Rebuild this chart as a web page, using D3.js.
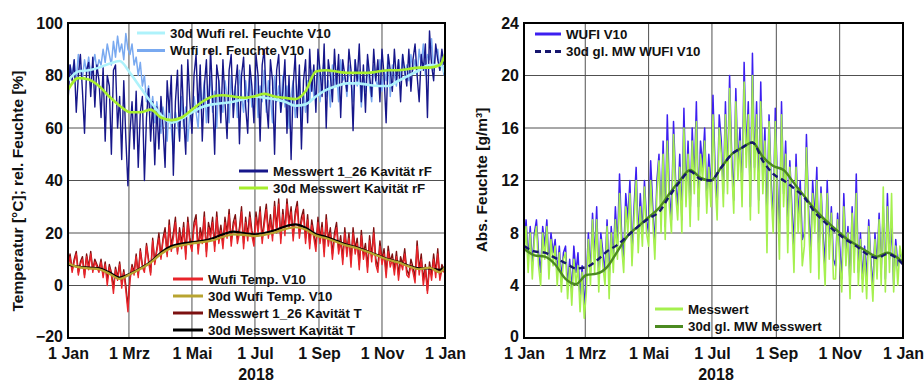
<!DOCTYPE html>
<html><head><meta charset="utf-8">
<script src="https://cdn.jsdelivr.net/npm/d3@7"></script>
<style>
body{margin:0;background:#fff;}
svg{font-family:"Liberation Sans",Arial,sans-serif;font-weight:bold;}
</style></head>
<body><svg id="c" width="924" height="383"></svg>
<script>
// ---------- DATA ----------
const year = 2018;
const xTickLabels = ["1 Jan","1 Mrz","1 Mai","1 Jul","1 Sep","1 Nov","1 Jan"];
const xTickMonths = [0,2,4,6,8,10,12];
const leftYTicks = [-20,0,20,40,60,80,100];
const rightYTicks = [0,4,8,12,16,20,24];
const rawStepDays = 2;

// raw (noisy) series, one value every 2 days
const messwertRF = [70,84,78,86,66,80,88,74,58,82,85,72,87,68,84,
 78,64,83,55,80,76,50,82,84,60,72,48,78,56,38,
 58,70,52,74,45,66,72,40,64,75,55,70,46,68,52,
 72,60,45,78,66,80,42,70,82,55,84,64,50,86,70,
 58,80,88,66,84,55,76,86,62,90,72,50,84,78,62,
 86,70,56,82,88,64,76,84,54,80,87,68,58,84,76,
 62,88,80,55,84,90,70,60,86,78,50,82,88,66,74,
 86,58,80,48,76,88,64,84,52,78,86,62,90,74,84,
 66,90,82,72,92,60,86,80,70,90,76,88,64,86,80,
 74,90,82,59,86,78,92,70,84,66,88,80,72,90,78,
 86,70,90,80,62,88,82,74,90,78,86,70,88,82,76,
 90,74,86,92,80,70,88,82,92,64,97,84,78,92,86,
 82,90,84];
const wufiRF = [76,84,80,86,78,88,82,79,86,81,87,80,84,88,82,
 86,84,90,85,92,88,84,93,87,95,89,92,86,96,90,
 88,92,84,87,80,85,76,80,70,76,66,72,62,70,64,
 58,68,62,55,70,60,50,66,62,56,72,60,68,55,66,
 62,72,66,60,76,68,78,62,72,80,66,74,60,78,70,
 66,78,72,62,80,70,76,64,82,72,66,78,70,80,68,
 72,80,64,76,70,82,66,78,72,62,80,70,76,66,80,
 68,76,60,72,78,64,70,80,62,74,66,78,70,82,72,
 74,84,70,80,86,72,78,68,84,76,82,70,86,78,80,
 72,84,78,70,86,76,82,68,80,74,86,76,70,84,78,
 76,86,74,82,78,88,72,84,80,76,86,78,88,80,84,
 78,88,82,86,80,90,84,92,80,88,86,94,82,88,90,
 82,86,80];
const messwertT = [8,12,6,10,13,5,9,11,4,12,7,13,6,10,8,
 6,10,4,9,2,8,5,-1,7,3,9,1,6,0,-8,
 3,8,5,12,4,14,8,6,16,10,5,18,9,14,20,
 11,18,22,12,25,15,20,26,13,22,16,24,12,26,18,
 15,24,27,14,22,18,28,13,24,20,26,15,28,18,23,
 16,26,20,29,17,24,27,18,22,30,16,26,19,28,21,
 17,28,22,30,18,25,31,20,27,19,32,22,33,18,29,
 21,33,24,30,19,28,32,20,26,29,18,27,16,25,20,
 15,26,18,24,13,27,17,22,12,20,24,14,19,10,22,
 13,20,9,22,14,18,8,21,12,16,7,19,11,22,10,
 7,17,10,14,5,15,9,12,6,13,4,11,8,14,6,
 4,10,7,3,17,6,12,2,8,-2,9,4,12,5,14,
 3,8,6];
const wufiT = [7,11,5,9,12,4,8,10,3,11,6,12,5,9,7,
 5,9,3,8,0,7,4,-3,6,2,8,-1,5,-2,-10,
 2,7,4,11,3,13,7,5,15,9,4,17,8,13,18,
 10,17,20,11,23,13,18,24,12,20,14,22,10,24,16,
 13,22,25,12,20,16,26,11,22,18,24,13,26,16,21,
 14,24,18,27,15,22,25,16,20,28,14,24,17,26,19,
 15,26,20,28,16,23,29,18,25,17,30,20,31,16,27,
 19,31,22,28,17,26,30,18,24,27,16,25,14,23,18,
 13,24,16,22,11,25,15,20,10,18,22,12,17,8,20,
 11,18,7,20,12,16,6,19,10,14,5,17,9,20,8,
 5,15,8,12,3,13,7,10,4,11,2,9,6,12,4,
 3,8,5,1,15,4,10,0,6,-3,7,2,10,3,12,
 2,6,5];
const wufiAbs = [7,9,6,8.5,5.5,8,9,6.5,5,8.5,7,9,5.5,8,6.5,
 7.5,5,7,4.5,6.5,7,4,6,3.5,7,5,6.5,3,5.5,2.5,
 4.5,8,5,9.5,6,10,4.5,8,6.5,5,9,4.5,8.5,6,10,
 7,12.5,8,6,11,9,12,6.5,10,13,7.5,11,8,12,9,
 8,13.5,10,7,12,14,9,15,8.5,17,11,9,16.5,12,10,
 14,9,17.5,11,15,9.5,16,12,18,10,15,13,16,10.5,14,
 11,18.5,13,10,17,15,11,18,12,20,14,10.5,19,13,16,
 11,21,14,18,10,21.7,13,18,10.5,19.5,12,16,9,17,12,
 9,17.5,12,8,18,11,15,8.5,13.5,10,7,14,9,12,7.5,
 8,15.5,10,6.5,12,9,13,6,11.5,8,5.5,12,7,10,6,
 5.5,9.5,7,4.5,11,6.5,8.5,4,10,6,12.5,5,8,4.5,7,
 4.5,9,6,3.8,8,5.5,9.5,5,10,4.5,11,6,8.5,4,7.5,
 5.5,6.5,6];
const messwertAbs = [6,8.5,5,8,4.5,7.5,8.5,5.5,4,8,6,8.5,4.5,7.5,5.5,
 7,4,6.5,3.5,6,6.5,3,5.5,2.5,6,4,5.5,2,5,1.5,
 3.5,7.5,4,9,5,9,3.5,7.5,5.5,4,8.5,3,8,5,9,
 6,11,7,5,10,8,11,5.5,9,12,6.5,10,7,11.5,8,
 7,12,9,6,11,13.5,8,14,7.5,15,10,8,15.5,11,9,
 13,8,16,10,14,8.5,15,11,16.5,9,14,12,15,9.5,13,
 10,17,12,9,16,14,10,17,11,19,13,9.5,18,12,15,
 10,19.5,13,17,9,20,12,17,9.5,18,11,15,6.5,16.5,11,
 8,16.5,11,6,17,10,14,6.5,13,9,5,13,8,11,5.5,
 7,14.5,9,5,11,8,12,4.5,11,7,4,11,6,9.5,4.5,
 4.5,9,6,3.5,10,5.5,8,3,9.5,5,11,4,7.5,3.5,6.5,
 3,8.5,5.5,2.8,7.5,4.5,9,4,11.5,3.5,10,5,11,3.5,7,
 4,7,6];

// 30-day moving averages (day of year -> value)
const smoothDays = [0,10,20,30,40,50,60,70,80,90,100,110,120,130,140,150,160,170,180,190,200,210,220,230,240,250,260,270,280,290,300,310,320,330,340,350,360,365];
const wufiRF30 = [78,81.5,82,83,84.5,85.5,81,75.5,70,65,62,63.5,66,68,69,69.5,70,71,72,71.5,71,70,68.5,69,72,74.5,76,77,77,76.5,76,76,78,80,82,84,84,81];
const messwertRF30 = [74.5,79,78.5,76,72,68.5,66,66,67,64,63,64,67,70,72,72.5,72,71.5,72,73,72,71.5,71,74,81.5,82,81.5,81,81,81,81.5,82,82,82.5,83,83,84,88];
const messwertT30 = [8,7.2,6.8,6.5,5,3,4.5,6.5,9,12.5,15,16,16.5,17,18,19.5,20.5,20,19.5,20,21,22.5,23.3,22,19.5,18.5,17,15.5,14.5,13,11.5,10,9,7.5,6.5,6.5,6,7];
const wufiT30 = [8.5,7,6.5,6.2,4.5,2.5,4.3,6.3,8.7,12,14.3,15.3,16,16.5,17.2,18.5,19.5,19.3,18.8,19.3,20.2,21.5,22.2,21.3,19,18,16.6,15.2,14.2,12.8,11.3,9.8,8.8,7.3,6.2,6.8,5,7];
const wufiAbs30 = [7,6.6,6.5,6.1,5.7,5.3,5.4,5.9,6.6,7.1,7.8,8.5,9.1,9.6,10.8,11.9,12.7,12.1,12,13,14,14.5,14.9,13.5,12.5,12,11.4,10.7,9.6,8.8,8.1,7.5,7,6.4,6.1,6.4,6,5.6];
const messwertAbs30 = [6.8,6.3,6.2,5.6,4.5,4.1,4.8,4.9,5.4,6.6,7.8,8.5,9.2,9.9,11,12,12.8,12.2,12,13,14,14.5,14.9,13.8,13.1,12.8,11.8,10.8,9.8,9,8.3,7.6,7.1,6.6,6.2,6.5,6.1,5.8];

// ---------- DRAW ----------
const svg = d3.select("#c");
const dayDate = d => new Date(Date.UTC(year,0,1+d));
const rawPts = arr => arr.map((v,i)=>({d:dayDate(i*rawStepDays),v}));
const smPts = arr => arr.map((v,i)=>({d:dayDate(smoothDays[i]),v}));
const gridCol = "#505050";

function panel(opts){
  const {x0,x1,y0,y1,yDomain,yTicks,id} = opts;
  const x = d3.scaleUtc().domain([dayDate(0), new Date(Date.UTC(year+1,0,1))]).range([x0,x1]);
  const y = d3.scaleLinear().domain(yDomain).range([y1,y0]);
  const g = svg.append("g");
  g.append("clipPath").attr("id",id).append("rect").attr("x",x0).attr("y",y0).attr("width",x1-x0).attr("height",y1-y0);
  const tickDates = xTickMonths.map(m=>new Date(Date.UTC(year,m,1)));
  g.append("g").selectAll("line").data(tickDates).join("line")
    .attr("x1",d=>x(d)).attr("x2",d=>x(d)).attr("y1",y0).attr("y2",y1)
    .attr("stroke",gridCol).attr("stroke-width",1);
  g.append("g").selectAll("line").data(yTicks).join("line")
    .attr("x1",x0).attr("x2",x1).attr("y1",d=>y(d)).attr("y2",d=>y(d))
    .attr("stroke",gridCol).attr("stroke-width",1);
  const xa = g.append("g").attr("transform",`translate(0,${y1})`)
    .call(d3.axisBottom(x).tickValues(tickDates).tickSize(0).tickPadding(10).tickFormat((d,i)=>xTickLabels[i]));
  xa.select(".domain").remove();
  xa.selectAll("text").attr("font-size",16).attr("font-family","Liberation Sans, Arial").attr("font-weight","bold").attr("fill","#111");
  const ya = g.append("g").attr("transform",`translate(${x0},0)`)
    .call(d3.axisLeft(y).tickValues(yTicks).tickSize(0).tickPadding(5));
  ya.select(".domain").remove();
  ya.selectAll("text").attr("font-size",16).attr("font-family","Liberation Sans, Arial").attr("font-weight","bold").attr("fill","#111")
    .attr("dy",(d,i)=> i===0 ? "0.2em" : "0.32em");
  const data = g.append("g").attr("clip-path",`url(#${id})`);
  const line = d3.line().x(p=>x(p.d)).y(p=>y(p.v));
  const sline = d3.line().x(p=>x(p.d)).y(p=>y(p.v)).curve(d3.curveMonotoneX);
  return {g,x,y,data,line,sline};
}

function drawRaw(P,arr,col,w){
  P.data.append("path").datum(rawPts(arr)).attr("d",P.line).attr("fill","none")
    .attr("stroke",col).attr("stroke-width",w||1.4).attr("stroke-linejoin","round");
}
function drawSmooth(P,arr,col,w,dash){
  const p = P.data.append("path").datum(smPts(arr)).attr("d",P.sline).attr("fill","none")
    .attr("stroke",col).attr("stroke-width",w||2.5);
  if(dash) p.attr("stroke-dasharray",dash);
}
function legend(x,yy,items,len){
  const lg = svg.append("g");
  items.forEach((it,i)=>{
    const ly = yy + i*it.gap;
    const l = lg.append("line").attr("x1",x).attr("x2",x+len).attr("y1",ly).attr("y2",ly)
      .attr("stroke",it.col).attr("stroke-width",it.w||3);
    if(it.dash) l.attr("stroke-dasharray",it.dash);
    lg.append("text").attr("x",x+len+5).attr("y",ly).attr("dy","0.36em")
      .attr("font-size",13.3).attr("fill","#111").text(it.label);
  });
}

const C = {navy:"#17178a", lblue:"#79a9f0", cyan:"#aef2fb", lgreen:"#a6ee2c",
  red:"#e8242a", dred:"#7c1010", olive:"#b8a430", black:"#000",
  blue:"#3c1ff0", dnavy:"#16166e", green2:"#a5f04f", dgreen:"#4b8a20"};

// Left panel
const L = panel({x0:68,x1:445,y0:23,y1:338,yDomain:[-20,100],yTicks:leftYTicks,id:"clipL"});
drawRaw(L,wufiRF,C.lblue,1.5);
drawRaw(L,messwertRF,C.navy,1.4);
drawSmooth(L,wufiRF30,C.cyan,2.6);
drawSmooth(L,messwertRF30,C.lgreen,2.6);
drawRaw(L,messwertT,C.dred,1.4);
drawRaw(L,wufiT,C.red,1.4);
drawSmooth(L,messwertT30,C.black,2.2);
drawSmooth(L,wufiT30,C.olive,2.2);
L.g.append("rect").attr("x",68).attr("y",23).attr("width",377).attr("height",315)
  .attr("fill","none").attr("stroke","#000").attr("stroke-width",2);

// Right panel
const R = panel({x0:524,x1:903,y0:23,y1:338,yDomain:[0,24],yTicks:rightYTicks,id:"clipR"});
drawRaw(R,wufiAbs,C.blue,1.5);
drawRaw(R,messwertAbs,C.green2,1.6);
drawSmooth(R,messwertAbs30,C.dgreen,2.4);
drawSmooth(R,wufiAbs30,C.dnavy,2.4,"6,4");
R.g.append("rect").attr("x",524).attr("y",23).attr("width",379).attr("height",315)
  .attr("fill","none").attr("stroke","#000").attr("stroke-width",2);

// Legends
legend(137,33,[{col:C.cyan,label:"30d Wufi rel. Feuchte V10",gap:17.5},{col:C.lblue,label:"Wufi rel. Feuchte V10",gap:17.5}],28);
legend(239,171,[{col:C.navy,label:"Messwert 1_26 Kavität rF",gap:17},{col:C.lgreen,label:"30d Messwert Kavität rF",gap:17}],29);
legend(173,279,[{col:C.red,label:"Wufi Temp. V10",gap:17},{col:C.olive,label:"30d Wufi Temp. V10",gap:17},
  {col:C.dred,label:"Messwert 1_26 Kavität T",gap:17},{col:C.black,label:"30d Messwert Kavität T",gap:17}],30);
legend(535,34,[{col:C.blue,label:"WUFI V10",gap:17.5},{col:C.dnavy,label:"30d gl. MW WUFI V10",gap:17.5,dash:"6,4"}],26);
legend(655,309,[{col:C.green2,label:"Messwert",gap:17.5},{col:C.dgreen,label:"30d gl. MW Messwert",gap:17.5}],28);

// Axis titles
svg.append("text").attr("transform","translate(23,191) rotate(-90)").attr("text-anchor","middle")
  .attr("font-size",15.5).attr("fill","#111").text("Temperatur [°C]; rel. Feuchte [%]");
svg.append("text").attr("transform","translate(487,180) rotate(-90)").attr("text-anchor","middle")
  .attr("font-size",15.5).attr("fill","#111").text("Abs. Feuchte [g/m³]");
svg.append("text").attr("x",256).attr("y",380).attr("text-anchor","middle").attr("font-size",16).attr("fill","#111").text(String(year));
svg.append("text").attr("x",716).attr("y",380).attr("text-anchor","middle").attr("font-size",16).attr("fill","#111").text(String(year));
</script></body></html>
